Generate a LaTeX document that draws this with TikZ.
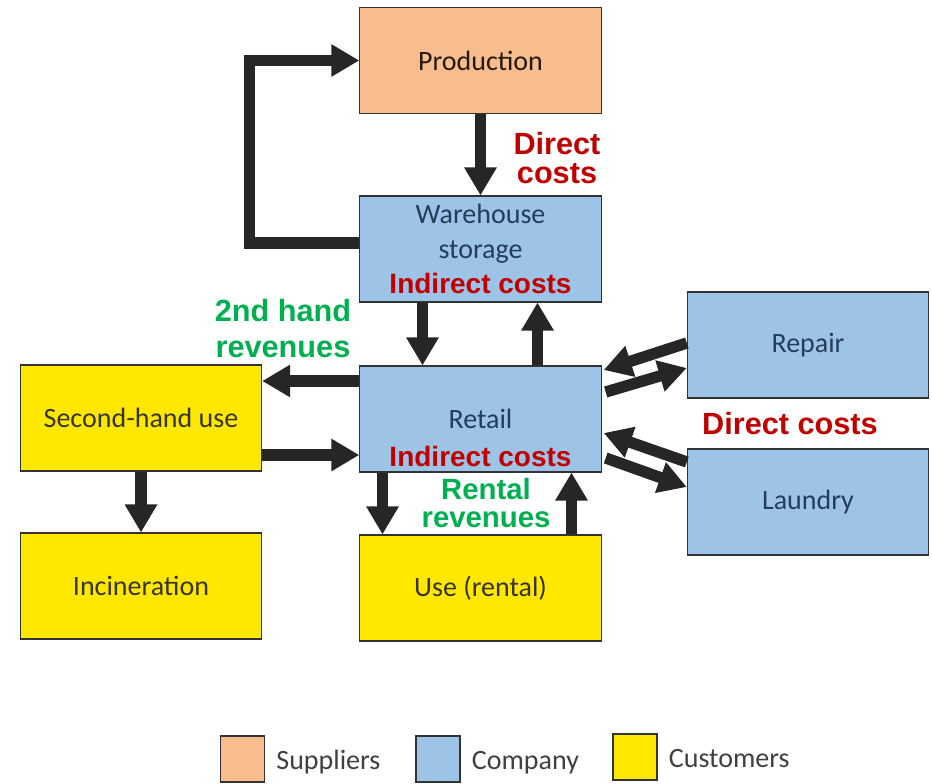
\documentclass[tikz,border=0pt]{standalone}
\usepackage{fontspec}
\setmainfont{Carlito}
\newfontfamily\labfont{Liberation Sans}
\usetikzlibrary{arrows.meta,calc,positioning}
\definecolor{supplier}{HTML}{F8BD8E}
\definecolor{company}{HTML}{9DC3E6}
\definecolor{customer}{HTML}{FFE800}
\definecolor{costred}{HTML}{C00000}
\definecolor{revgreen}{HTML}{00B050}
\definecolor{flowgray}{HTML}{262626}
\definecolor{comtext}{HTML}{243D5C}

\begin{document}
\begin{tikzpicture}[x=0.75pt,y=-0.75pt,
	box/.style={draw=black!80,line width=0.8pt,minimum width=181pt,minimum height=79.5pt,
		inner sep=0pt,align=center,font=\fontsize{21}{26}\selectfont},
	supbox/.style={box,fill=supplier,text=black!80!brown},
	combox/.style={box,fill=company,text=comtext},
	cusbox/.style={box,fill=customer,text=black!80!olive},
	flow/.style={draw=flowgray,line width=8.5pt,-{Triangle[width=23pt,length=21pt]}},
	cost/.style={text=costred,align=center,font=\labfont\bfseries\fontsize{21}{26}\selectfont},
	bigcost/.style={cost,font=\labfont\bfseries\fontsize{23}{22}\selectfont},
	revenue/.style={text=revgreen,align=center,font=\labfont\bfseries\fontsize{23}{22}\selectfont},
	keybox/.style={draw=black!80,line width=0.8pt,minimum width=33pt,minimum height=34.5pt,inner sep=0pt},
	keytext/.style={anchor=west,text=black!75,text height=15pt,text depth=0pt,
		font=\fontsize{21}{26}\selectfont}]
	\useasboundingbox (0,0) rectangle (932,784);

	% boxes
	\node[supbox] (prod) at (480.5,60.5) {Production};
	\node[combox] (ware) at (480.5,249) {Warehouse\\storage\\{\labfont\bfseries\color{costred}Indirect costs}};
	\node[combox] (retail) at (480.5,419) {Retail};
	\node[combox] (repair) at (808,345) {Repair};
	\node[combox] (laundry) at (808,502) {Laundry};
	\node[cusbox] (second) at (141,418) {Second-hand use};
	\node[cusbox] (incin) at (141,586) {Incineration};
	\node[cusbox] (use) at (480.5,588) {Use (rental)};

	% labels
	\node[cost] (retailcost) at ($(retail.center)+(0,37)$) {Indirect costs};
	\node[bigcost] (prodcost) at (557,158) {Direct\\costs};
	\node[bigcost] (servcost) at (790,424) {Direct costs};
	\node[revenue,font=\labfont\bfseries\fontsize{23}{27}\selectfont] (handrev) at (283,329) {2nd hand\\revenues};
	\node[revenue,font=\labfont\bfseries\fontsize{22}{21}\selectfont] (rentrev) at (486,503) {Rental\\revenues};

	% flows
	\draw[flow] ($(ware.west)+(0,-6)$) -- ++(-110,0) |- (prod.west);
	\draw[flow] (prod.south) -- (ware.north);
	\draw[flow] ($(ware.south)+(-58,0)$) -- ($(retail.north)+(-58,0)$);
	\draw[flow] ($(retail.north)+(57,0)$) -- ($(ware.south)+(57,0)$);
	\draw[flow] ($(retail.west)+(0,-38)$) -- ($(second.east)+(0,-37)$);
	\draw[flow] ($(second.east)+(0,37)$) -- ($(retail.west)+(0,36)$);
	\draw[flow] (second.south) -- (incin.north);
	\draw[flow] ($(retail.south)+(-98,0)$) -- ($(use.north)+(-98,0)$);
	\draw[flow] ($(use.north)+(91,0)$) -- ($(retail.south)+(91,0)$);
	\draw[flow] ($(repair.west)+(0,-2)$) -- ($(retail.east)+(2,-49)$);
	\draw[flow] ($(retail.east)+(4,-27)$) -- ($(repair.west)+(0,23)$);
	\draw[flow] ($(laundry.west)+(0,-40)$) -- ($(retail.east)+(2,14)$);
	\draw[flow] ($(retail.east)+(4,39)$) -- ($(laundry.west)+(0,-15)$);

	% legend
	\node[keybox,fill=supplier] (keysup) at (242.5,759) {};
	\node[keytext,right=5pt of keysup] (keysuptext) {Suppliers};
	\node[keybox,fill=company] (keycom) at (438,759) {};
	\node[keytext,right=5pt of keycom] (keycomtext) {Company};
	\node[keybox,fill=customer] (keycus) at (635,757) {};
	\node[keytext,right=5pt of keycus] (keycustext) {Customers};
\end{tikzpicture}
\end{document}
